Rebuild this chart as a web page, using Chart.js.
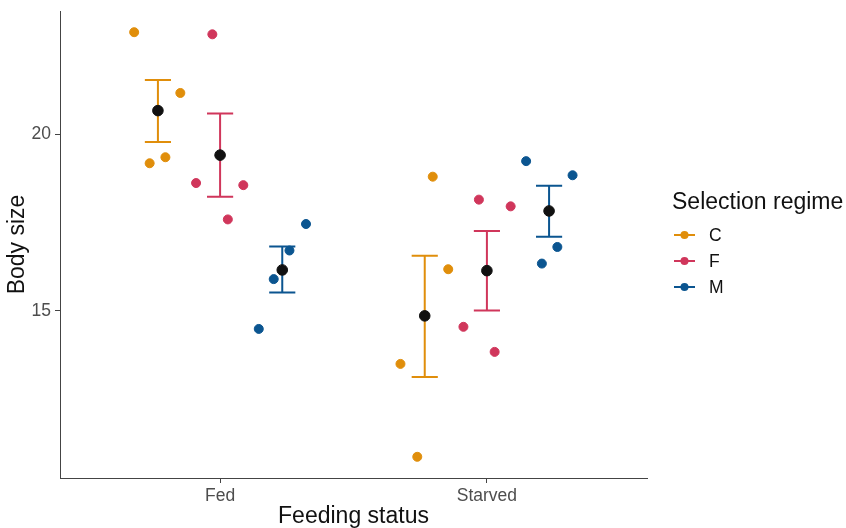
<!DOCTYPE html>
<html>
<head>
<meta charset="utf-8">
<script src="https://cdn.jsdelivr.net/npm/chart.js@4.4.0/dist/chart.umd.min.js"></script>
<style>
html, body { margin: 0; padding: 0; background: #fff; }
#wrap { width: 846px; height: 528px; }
</style>
</head>
<body>
<div id="wrap"><canvas id="myChart"></canvas></div>
<script>
var categories = ['Fed', 'Starved'];
var regimes = ['C', 'F', 'M'];
var regimeColors = ['#E08E0B', '#D0365B', '#0B5590'];
var yTicks = [15, 20];

// jittered raw points, first four are Fed, last four Starved
var cX = [0.678, 0.851, 0.736, 0.795, 1.797, 1.855, 1.676, 1.739];
var cY = [22.89, 21.17, 19.18, 19.35, 18.80, 16.18, 13.50, 10.87];
var fX = [0.971, 0.910, 1.087, 1.029, 1.970, 2.089, 1.912, 2.029];
var fY = [22.83, 18.62, 18.56, 17.59, 18.15, 17.96, 14.55, 13.84];
var mX = [1.322, 1.260, 1.201, 1.145, 2.147, 2.321, 2.264, 2.206];
var mY = [17.46, 16.71, 15.90, 14.49, 19.24, 18.84, 16.81, 16.34];

// mean and error bar ends per regime: [Fed, Starved]
var cMean = [20.67, 14.86], cLow = [19.78, 13.13], cHigh = [21.54, 16.56];
var fMean = [19.41, 16.14], fLow = [18.23, 15.01], fHigh = [20.59, 17.26];
var mMean = [16.16, 17.83], mLow = [15.52, 17.10], mHigh = [16.82, 18.54];

var dodge = [-0.233, 0, 0.233];
var capHalf = 0.049;

var rawX = [cX, fX, mX];
var rawY = [cY, fY, mY];
var means = [cMean, fMean, mMean];
var lows = [cLow, fLow, mLow];
var highs = [cHigh, fHigh, mHigh];

function zip(xs, ys) {
  return xs.map(function (x, i) { return { x: x, y: ys[i] }; });
}

// mean points (black), drawn on top
var meanPts = [];
regimes.forEach(function (r, g) {
  categories.forEach(function (c, k) {
    meanPts.push({ x: k + 1 + dodge[g], y: means[g][k] });
  });
});

var datasets = [{
  label: 'mean',
  data: meanPts,
  backgroundColor: '#111111',
  borderColor: '#111111',
  pointRadius: 5.3,
  pointHoverRadius: 5.3
}];
regimes.forEach(function (r, g) {
  datasets.push({
    label: r,
    data: zip(rawX[g], rawY[g]),
    backgroundColor: regimeColors[g],
    borderColor: regimeColors[g],
    pointRadius: 4.5,
    pointHoverRadius: 4.5
  });
});

var fontFam = '"Liberation Sans", Arial, sans-serif';

var errorBars = {
  id: 'errorBars',
  beforeDatasetsDraw: function (chart) {
    var ctx = chart.ctx;
    var xs = chart.scales.x, ys = chart.scales.y;
    ctx.save();
    ctx.lineWidth = 2;
    regimes.forEach(function (r, g) {
      ctx.strokeStyle = regimeColors[g];
      categories.forEach(function (c, k) {
        var xv = k + 1 + dodge[g];
        var px = xs.getPixelForValue(xv);
        var pl = xs.getPixelForValue(xv - capHalf);
        var pr = xs.getPixelForValue(xv + capHalf);
        var top = ys.getPixelForValue(highs[g][k]);
        var bot = ys.getPixelForValue(lows[g][k]);
        ctx.beginPath();
        ctx.moveTo(px, top); ctx.lineTo(px, bot);
        ctx.moveTo(pl, top); ctx.lineTo(pr, top);
        ctx.moveTo(pl, bot); ctx.lineTo(pr, bot);
        ctx.stroke();
      });
    });
    ctx.restore();
  },
  // legend drawn by hand, ggplot style
  afterDraw: function (chart) {
    var ctx = chart.ctx;
    ctx.save();
    ctx.fillStyle = '#111';
    ctx.textBaseline = 'middle';
    ctx.textAlign = 'left';
    ctx.font = '23px ' + fontFam;
    ctx.fillText('Selection regime', 672, 203);
    ctx.font = '17.5px ' + fontFam;
    var ys0 = [235, 261, 287];
    regimes.forEach(function (r, g) {
      ctx.strokeStyle = regimeColors[g];
      ctx.fillStyle = regimeColors[g];
      ctx.lineWidth = 2;
      ctx.beginPath();
      ctx.moveTo(674, ys0[g]); ctx.lineTo(695, ys0[g]);
      ctx.stroke();
      ctx.beginPath();
      ctx.arc(684.5, ys0[g], 4, 0, Math.PI * 2);
      ctx.fill();
      ctx.fillStyle = '#111';
      ctx.fillText(r, 709, ys0[g] + 1);
    });
    ctx.restore();
  }
};

var tickFont = { family: fontFam, size: 17.5 };
var titleFont = { family: fontFam, size: 23, lineHeight: 1 };

new Chart(document.getElementById('myChart'), {
  type: 'scatter',
  data: { datasets: datasets },
  plugins: [errorBars],
  options: {
    responsive: true,
    maintainAspectRatio: false,
    animation: false,
    layout: { padding: { top: 11, right: 199, left: 0, bottom: 0 } },
    plugins: { legend: { display: false }, tooltip: { enabled: false } },
    scales: {
      x: {
        type: 'linear',
        min: 0.4,
        max: 2.6,
        afterBuildTicks: function (scale) {
          scale.ticks = categories.map(function (c, i) { return { value: i + 1 }; });
        },
        afterFit: function (scale) {
          scale.height = 50;
          scale.paddingLeft = 0;
          scale.paddingRight = 0;
        },
        ticks: {
          color: '#4D4D4D',
          font: tickFont,
          padding: 3,
          maxRotation: 0,
          callback: function (v) { return categories[v - 1]; }
        },
        grid: { drawOnChartArea: false, color: '#444', tickLength: 5 },
        border: { color: '#444', width: 1 },
        title: { display: true, text: 'Feeding status', color: '#111', font: titleFont, padding: { top: 0, bottom: 0 } }
      },
      y: {
        min: 10.27,
        max: 23.49,
        afterBuildTicks: function (scale) {
          scale.ticks = yTicks.map(function (v) { return { value: v }; });
        },
        afterFit: function (scale) {
          scale.width = 60;
          scale.paddingTop = 0;
          scale.paddingBottom = 0;
        },
        ticks: { color: '#4D4D4D', font: tickFont, padding: 4 },
        grid: { drawOnChartArea: false, color: '#444', tickLength: 5 },
        border: { color: '#444', width: 1 },
        title: { display: true, text: 'Body size', color: '#111', font: titleFont, padding: { top: 6, bottom: 0 } }
      }
    }
  }
});
</script>
</body>
</html>
